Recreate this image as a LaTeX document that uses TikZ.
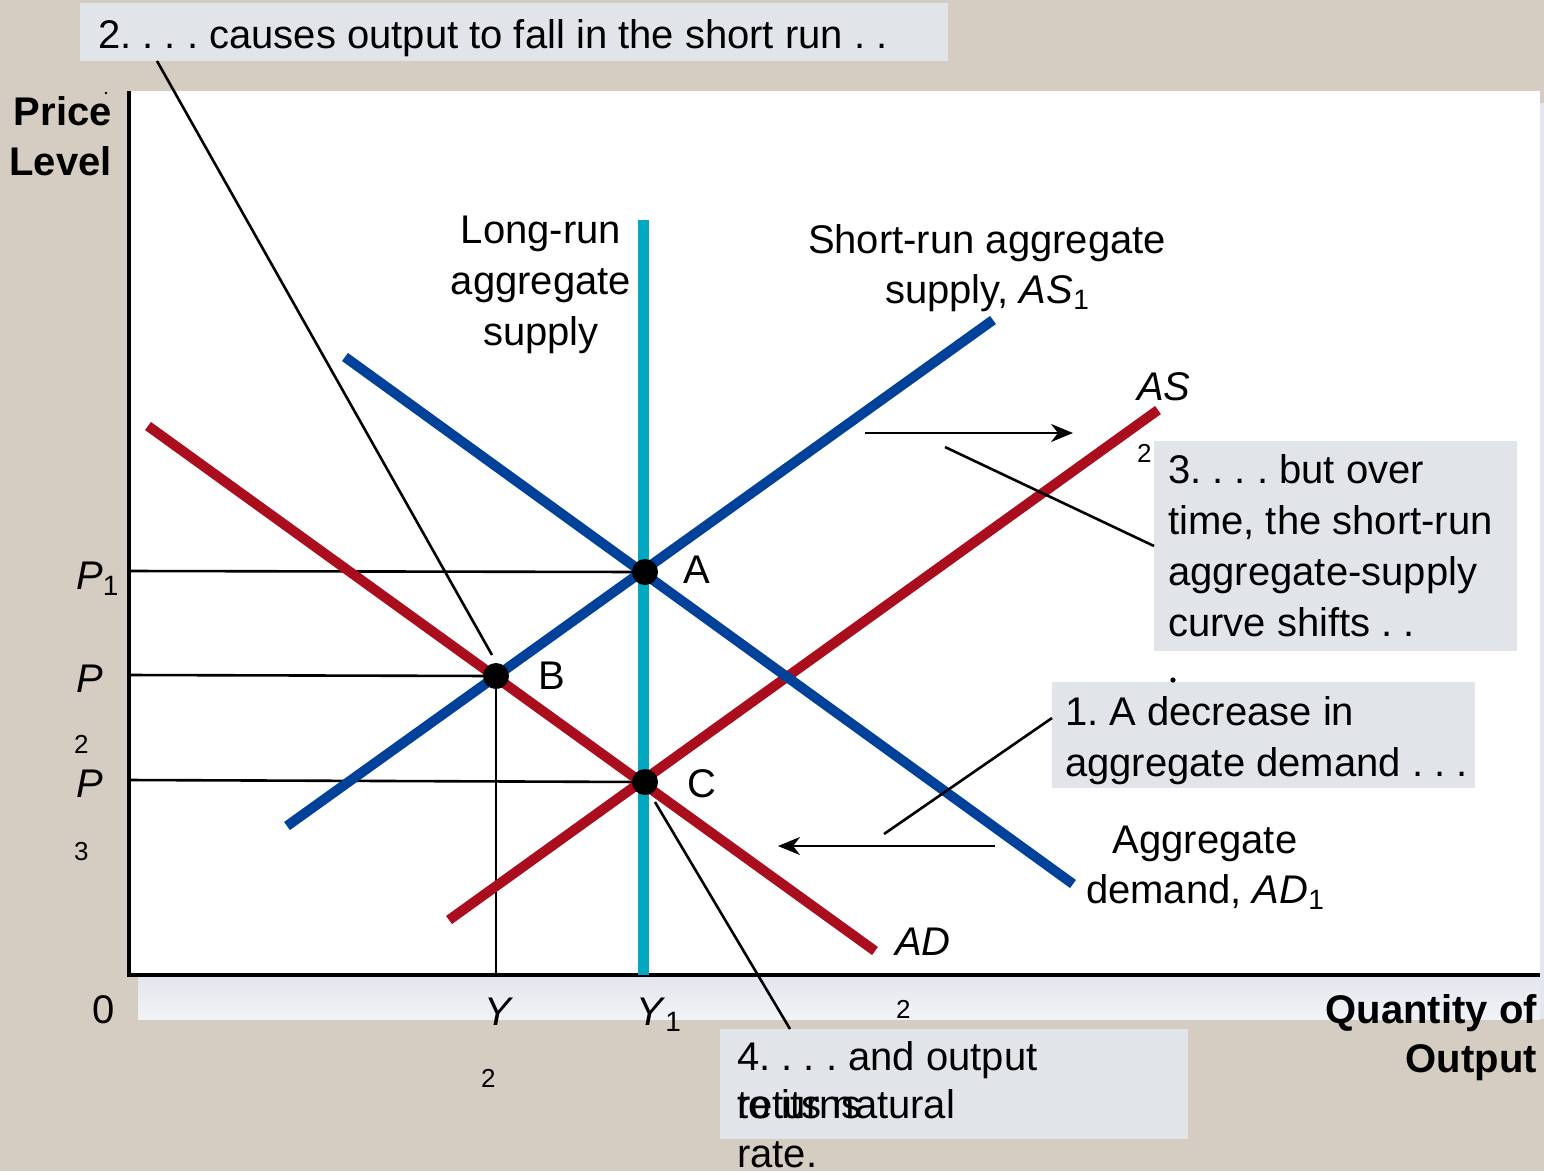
\documentclass[tikz,border=0pt]{standalone}
\usepackage{fontspec}
\setmainfont{Liberation Sans}
\usetikzlibrary{arrows.meta}
\definecolor{bgtan}{HTML}{D5CDC2}
\definecolor{boxgray}{HTML}{E1E4E9}
\definecolor{stripA}{HTML}{E3E6EE}
\definecolor{stripB}{HTML}{F2F3F6}
\definecolor{curveblue}{HTML}{00419A}
\definecolor{curvered}{HTML}{AA0D1E}
\definecolor{lrcyan}{HTML}{00A8C2}
\newcommand\sbs[1]{\raisebox{-6pt}{\fontsize{28}{28}\selectfont #1}}
\frenchspacing
\begin{document}
\begin{tikzpicture}[x=1pt,y=-1pt,
  lbl/.style={inner sep=0pt, font=\fontsize{40}{51}\selectfont},
  bl/.style={lbl, anchor=base west},
  smalllbl/.style={inner sep=0pt, anchor=base west, font=\fontsize{26}{26}\selectfont},
  infobox/.style={fill=boxgray, draw=none, anchor=north west, inner sep=0pt},
  leader/.style={line width=2.6pt, black},
  guide/.style={line width=2.6pt, black},
  arr/.style={line width=2.6pt, black, -{Stealth[length=22pt,width=18pt,inset=7pt]}},
  curve/.style={line width=10pt},
  dot/.style={circle, fill=black, minimum size=26pt, inner sep=0pt}]
% background
\useasboundingbox (0,0) rectangle (1544,1171);
\fill[bgtan] (0,0) rectangle (1544,1171);
\fill[white] (130,91) rectangle (1540,975);
\shade[top color=stripA, bottom color=stripB] (138,977) rectangle (1540,1019);
\fill[stripA] (1540,103) rectangle (1544,1019);
% info boxes
\node[infobox, minimum width=868pt, minimum height=58pt] (box2) at (80,3) {};
\node[infobox, minimum width=363pt, minimum height=210pt] (box3) at (1154,441) {};
\node[infobox, minimum width=423pt, minimum height=106pt] (box1) at (1052,682) {};
\node[infobox, minimum width=468pt, minimum height=110pt] (box4) at (720,1029) {};
% axes
\draw[line width=3.4pt] (129,91) -- (129,975) -- (1540,975);
% dots positions
\coordinate (Apos) at (645,572);
\coordinate (Bpos) at (496,676);
\coordinate (Cpos) at (645,782);
% guide lines
\coordinate (p1) at (129,571);
\coordinate (p2) at (129,675);
\coordinate (p3) at (129,780);
\coordinate (y2) at (496,975);
\draw[guide] (p1) -- (Apos);
\draw[guide] (p2) -- (Bpos);
\draw[guide] (p3) -- (Cpos);
\draw[guide] (Bpos) -- (y2);
% curves
\coordinate (lrT) at (643.5,220);
\coordinate (lrB) at (643.5,975);
\draw[curve, line width=11pt, lrcyan] (lrB) -- (lrT);
\coordinate (as1a) at (287,826);
\coordinate (as1b) at (993,320);
\coordinate (ad1a) at (345,357);
\coordinate (ad1b) at (1073,884);
\coordinate (ad2a) at (148,426);
\coordinate (ad2b) at (875,951);
\coordinate (as2a) at (449,920);
\coordinate (as2b) at (1158,410);
\draw[curve, curvered] (ad2a) -- (ad2b);
\draw[curve, curvered] (as2a) -- (as2b);
\draw[curve, curveblue] (ad1a) -- (ad1b);
\draw[curve, curveblue] (as1a) -- (as1b);
% equilibrium dots
\node[dot] (A) at (Apos) {};
\node[dot] (B) at (Bpos) {};
\node[dot] (C) at (Cpos) {};
% shift arrows
\coordinate (r1) at (865,433);
\coordinate (r2) at (1073,433);
\draw[arr] (r1) -- (r2);
\coordinate (l1) at (995,846);
\coordinate (l2) at (778,846);
\draw[arr] (l1) -- (l2);
% leaders
\coordinate (b2s) at (157,61);
\coordinate (b2e) at (492,655);
\draw[leader] (b2s) -- (b2e);
\coordinate (b3s) at (1154,546);
\coordinate (b3e) at (945,447);
\draw[leader] (b3s) -- (b3e);
\coordinate (b1s) at (1052,718);
\coordinate (b1e) at (884,834);
\draw[leader] (b1s) -- (b1e);
\coordinate (b4s) at (655,802);
\coordinate (b4e) at (790,1029);
\draw[leader] (b4s) -- (b4e);
% box texts
\node[bl] (t2) at (98,48) {2. . . . causes output to fall in the short run . .};
\node[lbl, anchor=north west, align=left] (t3) at (1168,454) {3. . . . but over\\time, the short-run\\aggregate-supply\\curve shifts . .};
\fill (1173,680) circle (2.6pt);
\node[lbl, anchor=north west, align=left] (t1) at (1065,696) {1. A decrease in\\aggregate demand . . .};
\node[lbl, anchor=north west, align=left, font=\fontsize{40}{48.5}\selectfont] (t4) at (737,1041) {4. . . . and output\\\rlap{returns}to its natural\\rate.};
% axis titles
\node[lbl, anchor=north east, align=right, font=\fontsize{40}{50}\selectfont\bfseries] (ylab) at (112,96) {Price\\Level};
\fill (106,93) circle (1.4pt);
\node[lbl, anchor=north east, align=right, font=\fontsize{40}{49}\selectfont\bfseries] (xlab) at (1537,994) {Quantity of\\Output};
% curve labels
\node[lbl, anchor=north, align=center] (lrlab) at (541,216) {Long-run\\aggregate\\supply};
\node[lbl, anchor=north, align=center, font=\fontsize{40}{50}\selectfont] (as1lab) at (987,224) {Short-run aggregate\\supply, \textit{AS}\sbs{1}};
\node[lbl, anchor=north, align=center, font=\fontsize{40}{50}\selectfont] (ad1lab) at (1205,826) {Aggregate\\demand, \textit{AD}\sbs{1}};
\node[bl] (as2lab) at (1137,400) {\textit{AS}};
\node[smalllbl] (as2sub) at (1137,462) {2};
\node[bl] (ad2lab) at (895,955) {\textit{AD}};
\node[smalllbl] (ad2sub) at (896,1018) {2};
\node[bl] (Alab) at (683,583) {A};
\node[bl] (Blab) at (538,689) {B};
\node[bl] (Clab) at (687,797) {C};
% axis tick labels
\node[bl] (P1lab) at (76,589) {\textit{P}\sbs{1}};
\node[bl] (P2lab) at (76,692) {\textit{P}};
\node[smalllbl] (P2sub) at (74,753) {2};
\node[bl] (P3lab) at (76,797) {\textit{P}};
\node[smalllbl] (P3sub) at (74,860) {3};
\node[bl] (zero) at (92,1023) {0};
\node[bl] (Y2lab) at (484,1025) {\textit{Y}};
\node[smalllbl] (Y2sub) at (481,1087) {2};
\node[bl] (Y1lab) at (636,1025) {\textit{Y}\sbs{1}};
\end{tikzpicture}
\end{document}
